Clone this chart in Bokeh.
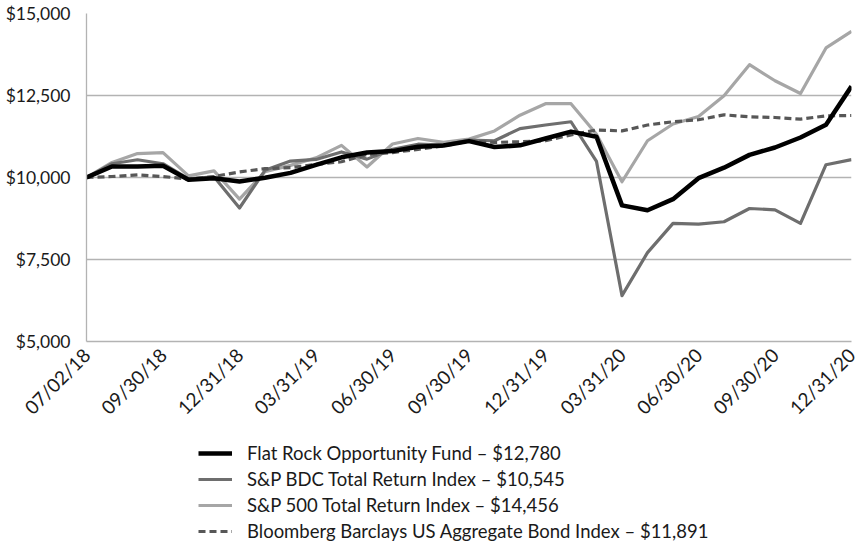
import math
from bokeh.plotting import figure
from bokeh.layouts import column
from bokeh.models import Range1d, FixedTicker, Legend, LegendItem, NumeralTickFormatter
from bokeh.embed import file_html
from bokeh.resources import INLINE

tick_labels = ["07/02/18", "09/30/18", "12/31/18", "03/31/19", "06/30/19", "09/30/19",
               "12/31/19", "03/31/20", "06/30/20", "09/30/20", "12/31/20"]

fund = [10000, 10335, 10335, 10360, 9930, 9980, 9880, 9990, 10140, 10385, 10615, 10760,
        10805, 10940, 10975, 11110, 10930, 10980, 11190, 11400, 11240, 9150, 9000, 9340,
        9980, 10300, 10690, 10915, 11220, 11610, 12780]
bdc = [10000, 10420, 10540, 10420, 9960, 10020, 9070, 10220, 10500, 10550, 10780, 10560,
       10860, 11015, 10990, 11140, 11120, 11490, 11600, 11700, 10490, 6400, 7710, 8600,
       8580, 8650, 9055, 9015, 8600, 10390, 10545]
sp500 = [10000, 10460, 10730, 10760, 10050, 10200, 9340, 10180, 10370, 10600, 10980, 10320,
         11020, 11190, 11070, 11170, 11420, 11900, 12250, 12250, 11320, 9870, 11120, 11630,
         11860, 12490, 13440, 12950, 12560, 13950, 14456]
bond = [10000, 10030, 10080, 10030, 9950, 10030, 10170, 10270, 10300, 10400, 10480, 10700,
        10760, 10860, 10960, 11110, 11070, 11090, 11120, 11300, 11450, 11420, 11600, 11700,
        11760, 11910, 11850, 11830, 11780, 11880, 11891]

names = ["Flat Rock Opportunity Fund \u2013 $12,780",
         "S&P BDC Total Return Index \u2013 $10,545",
         "S&P 500 Total Return Index \u2013 $14,456",
         "Bloomberg Barclays US Aggregate Bond Index \u2013 $11,891"]

x = list(range(len(fund)))
ticks = list(range(0, len(fund), 3))

FONT = "Lato"
styles = [
    dict(line_color="#a6a6a6", line_width=3.2, line_join="round"),  # S&P 500
    dict(line_color="#6e6e6e", line_width=3.2, line_join="round"),  # BDC
    dict(line_color="#575757", line_width=3.2, line_dash="7 4"),    # bond
    dict(line_color="#000000", line_width=4.5, line_join="round"),  # fund
]
series = [sp500, bdc, bond, fund]

# ---- main chart ----
p = figure(width=860, height=430, output_backend="svg", toolbar_location=None,
           x_range=Range1d(0, 30), y_range=Range1d(5000, 15000),
           min_border_left=86, min_border_right=9, min_border_top=13, min_border_bottom=89)
p.outline_line_color = None
p.background_fill_color = "white"
p.border_fill_color = "white"

for s, st in zip(series, styles):
    p.line(x, s, **st)

p.xgrid.visible = False
p.ygrid.grid_line_color = "#b3b3b3"
p.ygrid.grid_line_width = 1.3
p.yaxis.ticker = FixedTicker(ticks=[5000, 7500, 10000, 12500, 15000])
p.yaxis.formatter = NumeralTickFormatter(format="$0,0")
p.yaxis.axis_line_color = "#b3b3b3"
p.yaxis.axis_line_width = 1.3
p.yaxis.major_tick_line_color = None
p.yaxis.minor_tick_line_color = None
p.yaxis.major_label_text_font = FONT
p.yaxis.major_label_text_font_size = "17.5px"
p.yaxis.major_label_text_color = "#1a1a1a"
p.yaxis.major_label_standoff = 10

p.xaxis.ticker = FixedTicker(ticks=ticks)
p.xaxis.major_label_overrides = {t: lab for t, lab in zip(ticks, tick_labels)}
p.xaxis.major_label_orientation = math.pi / 4
p.xaxis.axis_line_color = "#b3b3b3"
p.xaxis.axis_line_width = 1.3
p.xaxis.major_tick_line_color = None
p.xaxis.minor_tick_line_color = None
p.xaxis.major_label_text_font = FONT
p.xaxis.major_label_text_font_size = "19px"
p.xaxis.major_label_text_color = "#1a1a1a"
p.xaxis.major_label_standoff = 4

# ---- legend strip (same series, kept out of view; only the legend shows) ----
q = figure(width=860, height=116, output_backend="svg", toolbar_location=None,
           x_range=Range1d(0, 30), y_range=Range1d(0, 1),
           min_border_left=0, min_border_right=0, min_border_top=0, min_border_bottom=0)
q.outline_line_color = None
q.axis.visible = False
q.grid.visible = False
rs = [q.line(x, s, **st) for s, st in zip(series, styles)]
r_sp, r_bdc, r_bond, r_fund = rs

legend = Legend(items=[LegendItem(label=names[0], renderers=[r_fund]),
                       LegendItem(label=names[1], renderers=[r_bdc]),
                       LegendItem(label=names[2], renderers=[r_sp]),
                       LegendItem(label=names[3], renderers=[r_bond])],
                location=(112, 3), orientation="vertical",
                label_text_font=FONT, label_text_font_size="18.5px", label_text_color="#1a1a1a",
                glyph_width=34, glyph_height=24, label_height=24, spacing=2,
                label_standoff=15, padding=0, margin=0, border_line_color=None,
                background_fill_alpha=0)
q.add_layout(legend, "center")

layout = column(p, q, spacing=0)
open("out.html", "w").write(file_html(layout, INLINE))
